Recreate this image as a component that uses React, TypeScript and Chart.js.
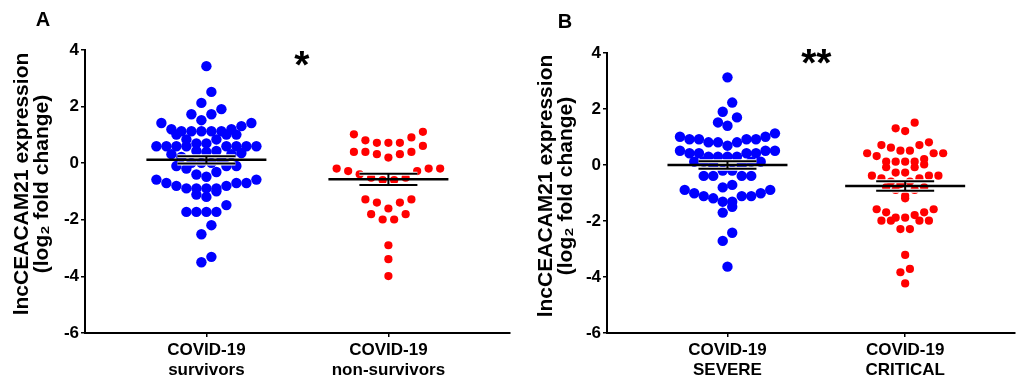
import { useEffect, useRef } from "react";
import { Chart, registerables } from "chart.js";

Chart.register(...registerables);

const FONT = '"Liberation Sans", Arial, Helvetica, sans-serif';

// ---------- Panel A ----------
const panelACategories: string[][] = [
  ["COVID-19", "survivors"],
  ["COVID-19", "non-survivors"],
];
const survivorsValues: number[] = [
  3.43, 2.52, 2.13, 1.91, 1.73, 1.73, 1.52, 1.42, 1.42, 1.31, 1.2, 1.2, 1.13, 1.13,
  1.13, 1.13, 1.13, 1.01, 1.01, 1.01, 0.84, 0.84, 0.7, 0.7, 0.6, 0.6, 0.6, 0.6, 0.6,
  0.6, 0.6, 0.6, 0.43, 0.32, 0.32, 0.36, 0.4, 0.43, 0.22, 0.11, 0.01, 0.01, 0.01,
  -0.1, -0.1, -0.1, -0.19, -0.31, -0.4, -0.48, -0.58, -0.58, -0.7, -0.7, -0.7, -0.8,
  -0.8, -0.89, -0.89, -0.89, -0.89, -0.99, -1.11, -1.19, -1.48, -1.72, -1.72, -1.72,
  -1.72, -2.19, -2.51, -3.31, -3.5,
];
const nonSurvivorsValues: number[] = [
  1.11, 1.02, 0.91, 0.81, 0.72, 0.72, 0.72, 0.61, 0.4, 0.4, 0.4, 0.32, 0.32, 0.2,
  -0.19, -0.19, -0.19, -0.28, -0.28, -0.39, -0.51, -0.51, -0.6, -0.6, -1.28, -1.28,
  -1.39, -1.39, -1.6, -1.8, -1.8, -1.99, -1.99, -2.9, -3.39, -3.99,
];
const panelAMeans: number[] = [0.12, -0.57];
const panelASems: number[] = [0.13, 0.2];

// ---------- Panel B ----------
const panelBCategories: string[][] = [
  ["COVID-19", "SEVERE"],
  ["COVID-19", "CRITICAL"],
];
const severeValues: number[] = [
  3.13, 2.23, 1.9, 1.7, 1.52, 1.4, 1.13, 1.01, 1.01, 0.92, 0.92, 0.92, 0.92, 0.81,
  0.81, 0.81, 0.69, 0.51, 0.51, 0.51, 0.42, 0.42, 0.42, 0.42, 0.3, 0.3, 0.3, 0.3,
  0.12, 0.12, 0.12, 0.12, 0.0, 0.0, -0.2, -0.2, -0.39, -0.39, -0.39, -0.39, -0.71,
  -0.8, -0.89, -0.89, -1.01, -1.01, -1.11, -1.11, -1.11, -1.19, -1.31, -1.31, -1.49,
  -1.7, -2.42, -2.71, -3.63,
];
const criticalValues: number[] = [
  1.51, 1.31, 1.21, 0.81, 0.71, 0.71, 0.62, 0.51, 0.51, 0.42, 0.42, 0.42, 0.32, 0.21,
  0.12, 0.12, 0.12, 0.12, 0.02, -0.08, -0.08, -0.27, -0.27, -0.38, -0.38, -0.38,
  -0.48, -0.48, -0.59, -0.59, -0.68, -0.8, -0.8, -0.89, -0.89, -1.1, -1.19, -1.58,
  -1.58, -1.69, -1.69, -1.79, -1.88, -1.88, -1.99, -1.99, -1.99, -1.99, -2.29, -2.29,
  -3.21, -3.71, -3.83, -4.23,
];
const panelBMeans: number[] = [0.0, -0.75];
const panelBSems: number[] = [0.13, 0.17];

// ---------- Shared ----------
const yTicks: number[] = [-6, -4, -2, 0, 2, 4];
const yTitle: string[] = ["lncCEACAM21 expression", "(log\u2082 fold change)"];
const groupColors: string[] = ["#0000FF", "#FF0000"];
const groupRadii: number[] = [5.2, 4.1];
const ROW_CAP = 11;

// Prism-like column scatter: group sorted values into rows, spread each row
// horizontally with the lowest values in the middle (V-shaped rows).
function rowOffsets(vals: number[], span: number, s: number, cap: number): number[] {
  const order = vals.map((_, i) => i).sort((a, b) => vals[b] - vals[a]);
  const rows: number[][] = [];
  let cur: number[] = [];
  let start = 0;
  for (const i of order) {
    if (cur.length === 0) {
      start = vals[i];
      cur.push(i);
    } else if (start - vals[i] <= span + 1e-9 && cur.length < cap) {
      cur.push(i);
    } else {
      rows.push(cur);
      cur = [i];
      start = vals[i];
    }
  }
  if (cur.length) rows.push(cur);
  const out: number[] = new Array(vals.length).fill(0);
  rows.forEach((row) => {
    const idx = [...row].sort((a, b) => vals[a] - vals[b]);
    const n = idx.length;
    const slots: number[] = [];
    for (let k = 0; k < n; k++) slots.push((k - (n - 1) / 2) * s);
    slots.sort((a, b) => Math.abs(a) - Math.abs(b) || a - b);
    idx.forEach((i, k) => {
      out[i] = slots[k];
    });
  });
  return out;
}

type PanelProps = {
  letter: string;
  letterX: number;
  letterY: number;
  categories: string[][];
  groups: number[][];
  means: number[];
  sems: number[];
  sig: string;
  sigX: number;
  sigY: number;
  left: number;
  width: number;
  yAxisWidth: number;
  top: number;
  right: number;
  xMin: number;
  xMax: number;
  titleX: number;
  titleCenterY: number;
  rowSpans: number[];
  slotPx: number[];
};

function Panel(props: PanelProps) {
  const ref = useRef<HTMLCanvasElement | null>(null);
  useEffect(() => {
    const canvas = ref.current;
    if (!canvas) return;
    const tickFont = { family: FONT, size: 17, weight: "bold" as const, lineHeight: 1.18 };
    const gridOpts = {
      drawOnChartArea: false,
      drawTicks: true,
      tickLength: 4,
      color: "#000",
      lineWidth: 1.5,
    };
    const decor = {
      id: "panelDecor",
      afterDatasetsDraw(chart: any) {
        const { ctx } = chart;
        const xs = chart.scales.x;
        const ys = chart.scales.y;
        const line = (x1: number, y1: number, x2: number, y2: number) => {
          ctx.beginPath();
          ctx.moveTo(x1, y1);
          ctx.lineTo(x2, y2);
          ctx.stroke();
        };
        ctx.save();
        props.means.forEach((m, i) => {
          const cx = xs.getPixelForValue(i + 1);
          const ym = ys.getPixelForValue(m);
          const yHi = ys.getPixelForValue(m + props.sems[i]);
          const yLo = ys.getPixelForValue(m - props.sems[i]);
          ctx.lineCap = "butt";
          ctx.strokeStyle = "#fff";
          ctx.lineWidth = 4;
          line(cx - 29, yHi, cx + 29, yHi);
          line(cx - 29, yLo, cx + 29, yLo);
          ctx.strokeStyle = "#000";
          ctx.lineWidth = 2.5;
          line(cx - 60, ym, cx + 60, ym);
          ctx.lineWidth = 2;
          line(cx - 29, yHi, cx + 29, yHi);
          line(cx - 29, yLo, cx + 29, yLo);
          line(cx, yHi, cx, yLo);
        });
        ctx.fillStyle = "#000";
        ctx.textAlign = "center";
        ctx.textBaseline = "middle";
        ctx.font = `bold 20px ${FONT}`;
        ctx.fillText(props.letter, props.letterX, props.letterY);
        // y axis title (two rotated lines)
        ctx.save();
        ctx.font = `bold 21px ${FONT}`;
        ctx.translate(props.titleX, props.titleCenterY);
        ctx.rotate(-Math.PI / 2);
        yTitle.forEach((t, k) => ctx.fillText(t, 0, k * 20.5));
        ctx.restore();
        ctx.textBaseline = "alphabetic";
        ctx.font = `bold 39px ${FONT}`;
        ctx.fillText(props.sig, xs.getPixelForValue(props.sigX), ys.getPixelForValue(props.sigY) + 0.55 * 39);
        ctx.restore();
      },
    };
    const chart = new Chart(canvas, {
      type: "scatter",
      data: {
        datasets: props.groups.map((vals, i) => ({
          data: vals.map((v) => ({ x: i + 1, y: v })),
          backgroundColor: groupColors[i],
          borderWidth: 0,
          pointRadius: groupRadii[i],
          pointHoverRadius: groupRadii[i],
        })),
      },
      options: {
        responsive: false,
        animation: false,
        events: [],
        layout: { padding: { top: props.top, right: props.right, left: 0, bottom: 0 } },
        plugins: { legend: { display: false }, tooltip: { enabled: false } },
        scales: {
          x: {
            type: "linear",
            min: props.xMin,
            max: props.xMax,
            afterBuildTicks: (s: any) => {
              s.ticks = props.categories.map((_, i) => ({ value: i + 1 }));
            },
            afterFit: (s: any) => {
              s.height = 46;
            },
            ticks: {
              callback: (v: any) => props.categories[Math.round(Number(v)) - 1] ?? "",
              font: tickFont,
              color: "#000",
              padding: 3,
              maxRotation: 0,
              autoSkip: false,
            },
            grid: gridOpts,
            border: { display: true, color: "#000", width: 2 },
          },
          y: {
            type: "linear",
            min: -6,
            max: 4,
            afterBuildTicks: (s: any) => {
              s.ticks = yTicks.map((v) => ({ value: v }));
            },
            afterFit: (s: any) => {
              s.width = props.yAxisWidth;
            },
            ticks: { font: { family: FONT, size: 17, weight: "bold" }, color: "#000", padding: 2 },
            grid: gridOpts,
            border: { display: true, color: "#000", width: 2 },
            title: { display: false, text: yTitle },
          },
        },
      },
      plugins: [decor],
    });
    // spread each group's rows horizontally using the chart's own x scale
    const xs: any = chart.scales.x;
    props.groups.forEach((vals, gi) => {
      const cx = xs.getPixelForValue(gi + 1);
      const offs = rowOffsets(vals, props.rowSpans[gi], props.slotPx[gi], ROW_CAP);
      (chart.data.datasets[gi] as any).data = vals.map((v, k) => ({
        x: xs.getValueForPixel(cx + offs[k]),
        y: v,
      }));
    });
    chart.update();
    return () => chart.destroy();
  }, []);
  return (
    <canvas
      ref={ref}
      width={props.width}
      height={379}
      style={{ position: "absolute", left: props.left, top: 0, width: props.width, height: 379 }}
    />
  );
}

export default function App() {
  return (
    <div
      style={{
        position: "fixed",
        left: 0,
        top: 0,
        width: 1020,
        height: 379,
        background: "#fff",
        overflow: "hidden",
      }}
    >
      <Panel
        letter="A"
        letterX={43}
        letterY={20}
        categories={panelACategories}
        groups={[survivorsValues, nonSurvivorsValues]}
        means={panelAMeans}
        sems={panelASems}
        sig="*"
        sigX={1.525}
        sigY={3.76}
        left={0}
        width={515}
        yAxisWidth={85}
        top={50}
        right={3}
        xMin={0.333}
        xMax={2.667}
        titleX={22}
        titleCenterY={184}
        rowSpans={[0.4, 0.45]}
        slotPx={[10, 11.5]}
      />
      <Panel
        letter="B"
        letterX={50}
        letterY={22}
        categories={panelBCategories}
        groups={[severeValues, criticalValues]}
        means={panelBMeans}
        sems={panelBSems}
        sig="**"
        sigX={1.5}
        sigY={3.93}
        left={515}
        width={505}
        yAxisWidth={92}
        top={53}
        right={0}
        xMin={0.322}
        xMax={2.617}
        titleX={31}
        titleCenterY={186}
        rowSpans={[0.45, 0.3]}
        slotPx={[9.5, 9.5]}
      />
    </div>
  );
}
